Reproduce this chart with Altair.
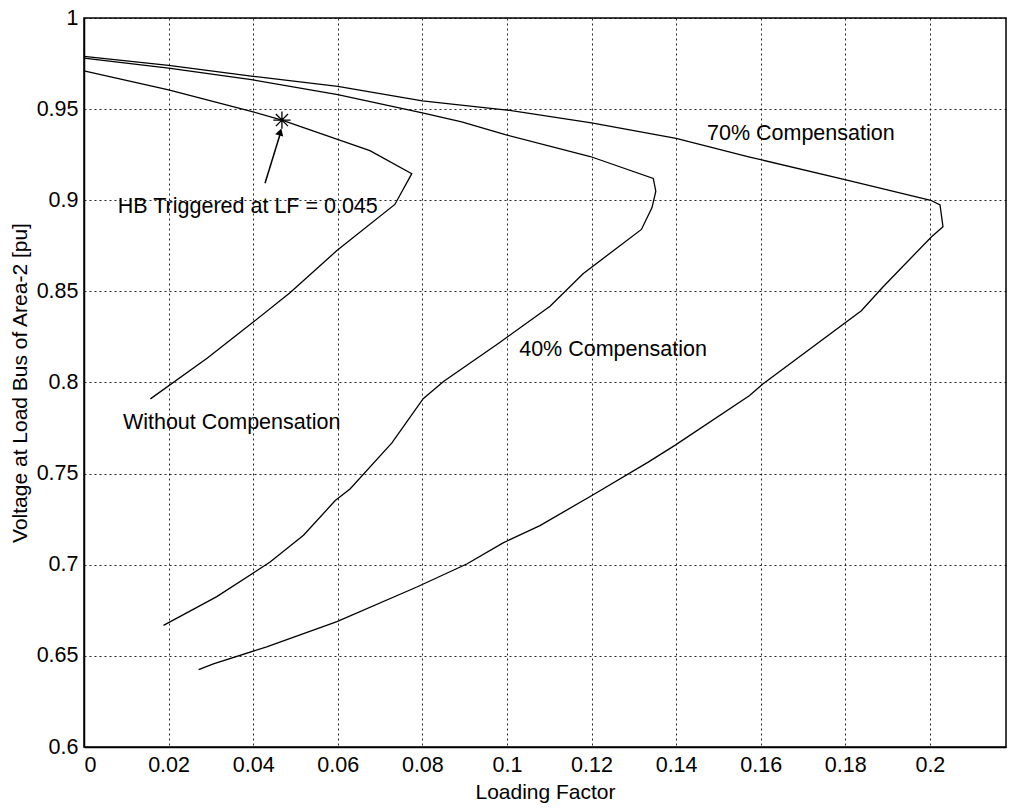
import altair as alt
import pandas as pd

# Without compensation
w_x = [0, 0.02, 0.04, 0.0468, 0.0676, 0.0775, 0.0735, 0.0598, 0.0487, 0.0401, 0.0291, 0.0157]
w_y = [0.971, 0.9605, 0.9485, 0.944, 0.9272, 0.9146, 0.8977, 0.8724, 0.8492, 0.8333, 0.8133, 0.791]

# 40% compensation
f_x = [0, 0.02, 0.04, 0.06, 0.08, 0.0893, 0.0996, 0.1197, 0.1346, 0.1352, 0.1343, 0.1318,
       0.118, 0.1102, 0.0983, 0.085, 0.0802, 0.0728, 0.0629, 0.0594, 0.0519, 0.044, 0.0314, 0.0188]
f_y = [0.978, 0.9725, 0.966, 0.958, 0.948, 0.943, 0.936, 0.924, 0.912, 0.905, 0.896, 0.884,
       0.8597, 0.8418, 0.822, 0.8006, 0.7911, 0.7669, 0.7416, 0.7352, 0.7162, 0.7015, 0.6825, 0.6667]

# 70% compensation
s_x = [0, 0.02, 0.04, 0.06, 0.08, 0.1, 0.12, 0.14, 0.1574, 0.1804, 0.2002, 0.2024, 0.2031, 0.2004,
       0.1889, 0.1838, 0.1605, 0.1573, 0.1397, 0.1334, 0.1204, 0.1078, 0.0991, 0.0905, 0.0787,
       0.0598, 0.0432, 0.0306, 0.0271]
s_y = [0.979, 0.974, 0.968, 0.9625, 0.9545, 0.9495, 0.9425, 0.934, 0.9237, 0.9111, 0.900, 0.8974,
       0.8855, 0.88, 0.8524, 0.8394, 0.7992, 0.7927, 0.7655, 0.7563, 0.7384, 0.7215, 0.712, 0.7004,
       0.6878, 0.6688, 0.655, 0.6456, 0.6424]

# annotations
star_x, star_y = [0.0468], [0.944]
arrow_x, arrow_y, arrow_x2, arrow_y2 = [0.0428], [0.9093], [0.0466], [0.938]
head_x, head_y = [0.0464], [0.9375]

label_text = ["HB Triggered at LF = 0.045", "Without Compensation", "40% Compensation", "70% Compensation"]
label_x = [0.008, 0.0092, 0.1029, 0.1473]
label_y = [0.8963, 0.7778, 0.818, 0.9362]

x_ticks = [0, 0.02, 0.04, 0.06, 0.08, 0.1, 0.12, 0.14, 0.16, 0.18, 0.2]
y_ticks = [0.6, 0.65, 0.7, 0.75, 0.8, 0.85, 0.9, 0.95, 1.0]

rows = []
for name, xs, ys in [("Without", w_x, w_y), ("40%", f_x, f_y), ("70%", s_x, s_y)]:
    for i, (a, b) in enumerate(zip(xs, ys)):
        rows.append({"series": name, "i": i, "lf": a, "v": b})
lines_df = pd.DataFrame(rows)

FONT = "Liberation Sans"

xscale = alt.Scale(domain=[0, 0.218], nice=False, zero=False)
yscale = alt.Scale(domain=[0.6, 1.0], nice=False, zero=False)

xax = alt.Axis(values=x_ticks, format="~g", title="Loading Factor", grid=True,
               gridColor="black", gridDash=[2, 3], gridWidth=1, gridOpacity=0.85,
               domainColor="black", domainWidth=1.5, ticks=False, labelPadding=7,
               labelFont=FONT, labelFontSize=21.5, labelColor="black",
               titleFont=FONT, titleFontSize=21, titleFontWeight="normal", titleColor="black",
               titlePadding=6)
yax = alt.Axis(values=y_ticks, format="~g", title="Voltage at Load Bus of Area-2 [pu]", grid=True,
               gridColor="black", gridDash=[2, 3], gridWidth=1, gridOpacity=0.85,
               domainColor="black", domainWidth=1.5, ticks=False, labelPadding=6,
               labelFont=FONT, labelFontSize=21.5, labelColor="black",
               titleFont=FONT, titleFontSize=21, titleFontWeight="normal", titleColor="black",
               titlePadding=6)

lines = alt.Chart(lines_df).mark_line(color="black", strokeWidth=1.3).encode(
    x=alt.X("lf:Q", scale=xscale, axis=xax),
    y=alt.Y("v:Q", scale=yscale, axis=yax),
    detail="series:N",
    order="i:Q",
)

star = alt.Chart(pd.DataFrame({"lf": star_x, "v": star_y})).mark_point(
    shape="M-1,0L1,0M0,-1L0,1M-0.7,-0.7L0.7,0.7M-0.7,0.7L0.7,-0.7",
    filled=False, color="black", strokeWidth=1.3, size=300, opacity=1,
).encode(x=alt.X("lf:Q", scale=xscale), y=alt.Y("v:Q", scale=yscale))

shaft = alt.Chart(pd.DataFrame({"lf": arrow_x, "v": arrow_y, "lf2": arrow_x2, "v2": arrow_y2})).mark_rule(
    color="black", strokeWidth=1.5
).encode(x=alt.X("lf:Q", scale=xscale), y=alt.Y("v:Q", scale=yscale), x2="lf2:Q", y2="v2:Q")

head = alt.Chart(pd.DataFrame({"lf": head_x, "v": head_y})).mark_point(
    shape="triangle-up", filled=True, color="black", size=70, angle=17, opacity=1
).encode(x=alt.X("lf:Q", scale=xscale), y=alt.Y("v:Q", scale=yscale))

texts = alt.Chart(pd.DataFrame({"t": label_text, "lf": label_x, "v": label_y})).mark_text(
    align="left", baseline="middle", font=FONT, fontSize=21.5, color="black"
).encode(x=alt.X("lf:Q", scale=xscale), y=alt.Y("v:Q", scale=yscale), text="t:N")

chart = alt.layer(lines, star, shaft, head, texts).properties(
    width=922, height=729,
    autosize=alt.AutoSizeParams(type="none"),
    padding={"left": 84, "top": 18, "right": 3, "bottom": 61},
    background="white",
).configure_view(stroke="black", strokeWidth=1.5)

chart.save("out.html", embed_options={"renderer": "svg", "actions": False})
